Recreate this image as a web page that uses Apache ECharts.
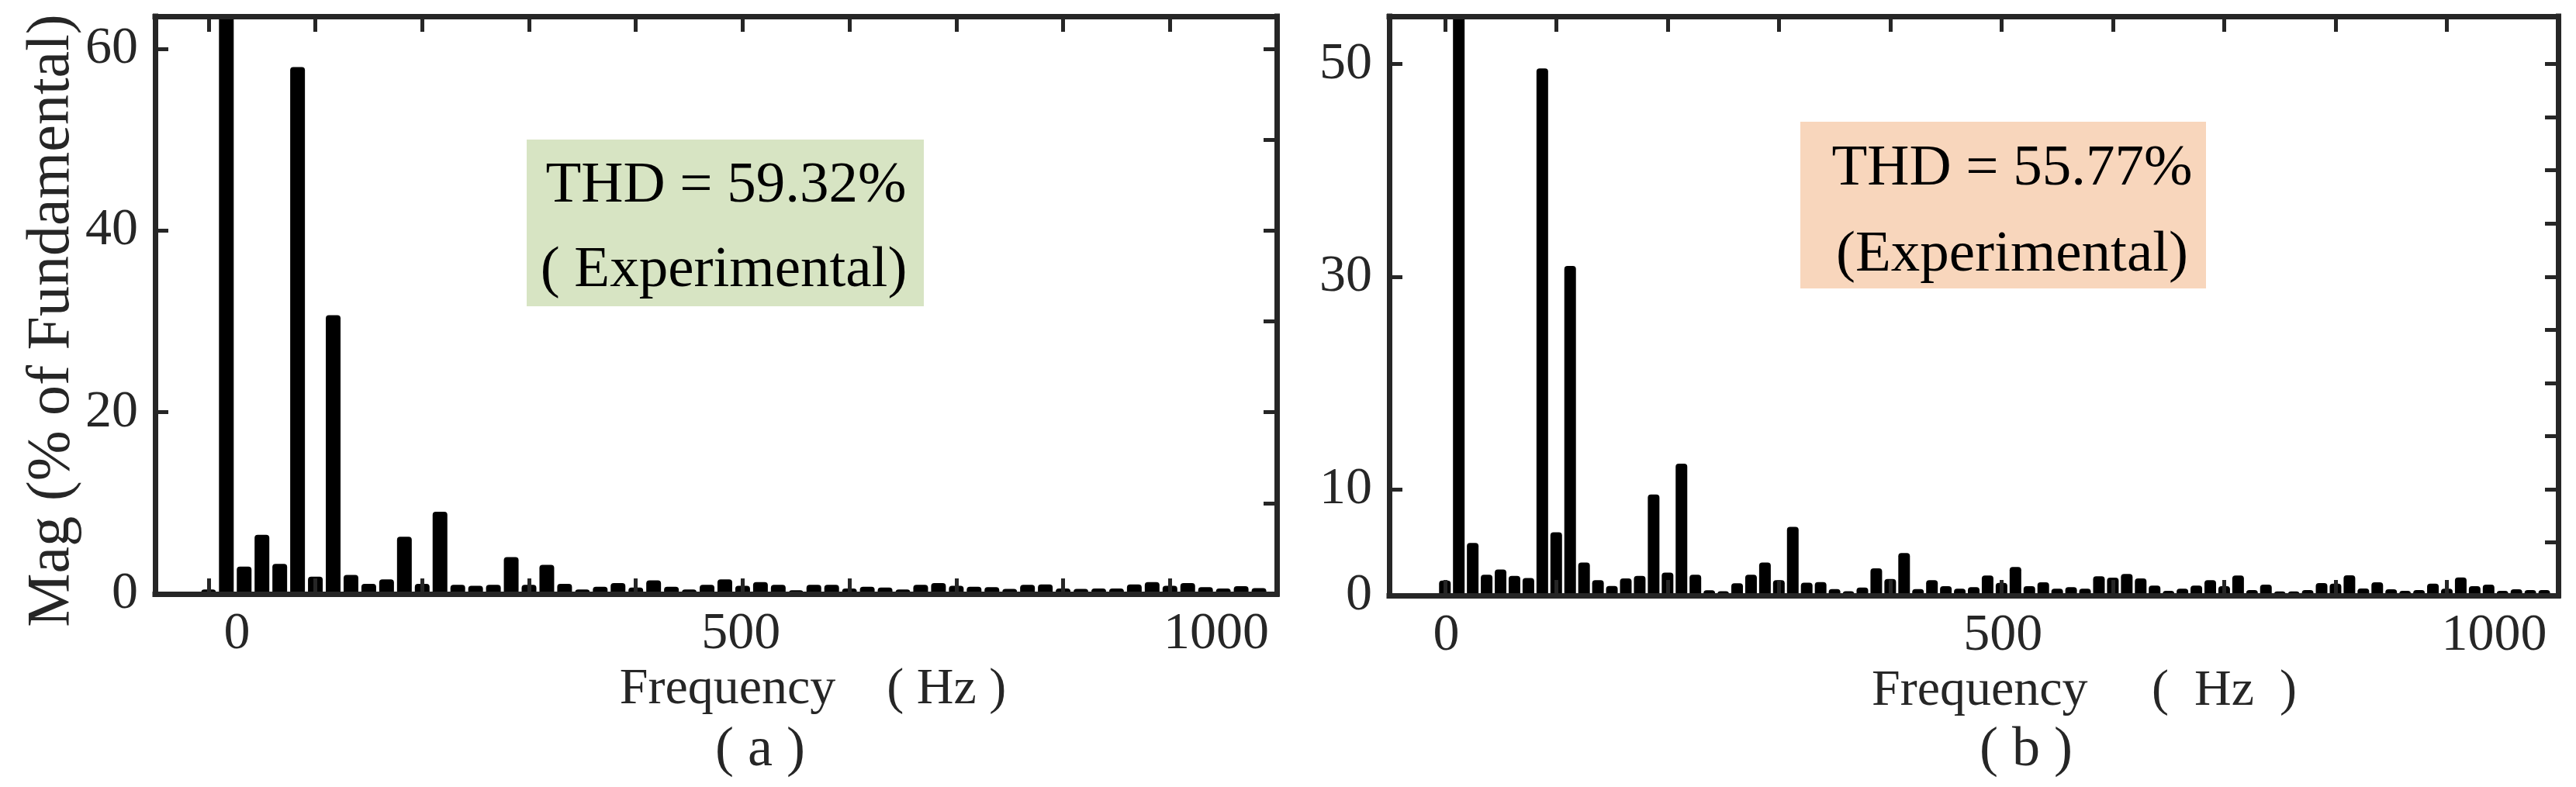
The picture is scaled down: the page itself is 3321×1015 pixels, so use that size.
<!DOCTYPE html>
<html>
<head>
<meta charset="utf-8">
<title>Harmonic spectrum</title>
<script src="https://cdn.jsdelivr.net/npm/echarts@6/dist/echarts.min.js"></script>
<style>
  html, body { margin: 0; padding: 0; background: #fff; }
  #chart { width: 3321px; height: 1015px; }
</style>
</head>
<body>
<div id="chart"></div>
<script>
// bar index along the spectrum (1 = fundamental, clipped at the top)
const ordersA = [0, 1, 2, 3, 4, 5, 6, 7, 8, 9, 10, 11, 12, 13, 14, 15, 16, 17, 18, 19,
  20, 21, 22, 23, 24, 25, 26, 27, 28, 29, 30, 31, 32, 33, 34, 35, 36, 37, 38, 39,
  40, 41, 42, 43, 44, 45, 46, 47, 48, 49, 50, 51, 52, 53, 54, 55, 56, 57, 58, 59];
const magA = [0.5, 100, 3.0, 6.5, 3.3, 58.0, 1.9, 30.7, 2.1, 1.1,
  1.6, 6.3, 1.1, 9.05, 1.0, 0.9, 1.0, 4.05, 1.0, 3.2,
  1.1, 0.5, 0.8, 1.2, 0.7, 1.5, 0.8, 0.5, 1.0, 1.6,
  0.9, 1.3, 1.0, 0.4, 1.0, 1.0, 0.6, 0.8, 0.7, 0.5,
  1.0, 1.2, 0.9, 0.8, 0.75, 0.55, 1.0, 1.05, 0.6, 0.55,
  0.6, 0.6, 1.05, 1.3, 0.9, 1.2, 0.75, 0.6, 0.85, 0.65];

const ordersB = [0, 1, 2, 3, 4, 5, 6, 7, 8, 9, 10, 11, 12, 13, 14, 15, 16, 17, 18, 19,
  20, 21, 22, 23, 24, 25, 26, 27, 28, 29, 30, 31, 32, 33, 34, 35, 36, 37, 38, 39,
  40, 41, 42, 43, 44, 45, 46, 47, 48, 49, 50, 51, 52, 53, 54, 55, 56, 57, 58, 59,
  60, 61, 62, 63, 64, 65, 66, 67, 68, 69, 70, 71, 72, 73, 74, 75, 76, 77, 78, 79];
const magB = [1.4, 100, 4.95, 1.95, 2.45, 1.85, 1.65, 49.6, 5.95, 31.0,
  3.1, 1.45, 0.9, 1.6, 1.85, 9.5, 2.15, 12.4, 1.95, 0.5,
  0.4, 1.15, 1.95, 3.1, 1.45, 6.45, 1.2, 1.25, 0.6, 0.4,
  0.75, 2.55, 1.55, 4.0, 0.6, 1.44, 0.88, 0.63, 0.78, 1.88,
  1.19, 2.68, 0.88, 1.24, 0.63, 0.78, 0.63, 1.8, 1.68, 2.02,
  1.6, 0.93, 0.44, 0.63, 0.93, 1.44, 0.88, 1.88, 0.51, 1.02,
  0.39, 0.39, 0.51, 1.17, 1.12, 1.9, 0.66, 1.24, 0.58, 0.44,
  0.51, 1.12, 0.63, 1.7, 0.88, 1.02, 0.44, 0.58, 0.51, 0.51];

// frequency tick labels and where they sit on each panel's bar axis
const freqLabels = ['0', '500', '1000'];
const freqLabelAtA = [1.6, 29.9, 56.6];
const freqLabelAtB = [0.1, 40.1, 75.4];

// y tick labels
const magTicksA = [0, 20, 40, 60];
const magTicksB = [0, 10, 30, 50];

const thdText = ['THD = 59.32%', 'THD = 55.77%'];
const expText = ['( Experimental)', '(Experimental)'];

const font = 'Liberation Serif';
const ink = '#262626';
const axisLine = { show: true, onZero: false, lineStyle: { color: ink, width: 7, cap: 'square' } };
const tickStyle = { color: ink, width: 5 };

function steps(step, max) {
  const t = [];
  for (let v = 0; v < max; v += step) t.push(v);
  return t;
}

function bottomAxis(grid, min, max, step, labelAt, name, namePad) {
  return {
    type: 'value', gridIndex: grid, position: 'bottom', min: min, max: max, z: 5,
    axisLine: axisLine,
    axisTick: { show: true, inside: true, length: 20, customValues: steps(step, max), lineStyle: tickStyle },
    axisLabel: {
      show: true, customValues: labelAt, margin: 18,
      formatter: function (v) {
        const i = labelAt.findIndex(p => Math.abs(p - v) < 1e-6);
        return i < 0 ? '' : freqLabels[i];
      },
      fontFamily: font, fontSize: 68, color: ink
    },
    splitLine: { show: false },
    name: name, nameLocation: 'middle', nameGap: 80,
    nameTextStyle: { fontFamily: font, fontSize: 66, color: ink, padding: [0, 0, 0, namePad] }
  };
}

function topAxis(grid, min, max, step) {
  return {
    type: 'value', gridIndex: grid, position: 'top', min: min, max: max, z: 5,
    axisLine: axisLine,
    axisTick: { show: true, inside: true, length: 20, customValues: steps(step, max), lineStyle: tickStyle },
    axisLabel: { show: false },
    splitLine: { show: false }
  };
}

function leftAxis(grid, max, ticks) {
  return {
    type: 'value', gridIndex: grid, position: 'left', min: 0, max: max, z: 5,
    axisLine: axisLine,
    axisTick: { show: true, inside: true, length: 17, customValues: ticks, lineStyle: tickStyle },
    axisLabel: {
      show: true, customValues: ticks, margin: 22, padding: [26, 0, 0, 0],
      fontFamily: font, fontSize: 68, color: ink
    },
    splitLine: { show: false }
  };
}

function rightAxis(grid, max, step) {
  return {
    type: 'value', gridIndex: grid, position: 'right', min: 0, max: max, z: 5,
    axisLine: axisLine,
    axisTick: { show: true, inside: true, length: 17, customValues: steps(step, max), lineStyle: tickStyle },
    axisLabel: { show: false },
    splitLine: { show: false }
  };
}

const yA = leftAxis(0, 63.6, magTicksA);
yA.name = 'Mag (% of Fundamental)';
yA.nameLocation = 'middle';
yA.nameGap = 90;
yA.nameTextStyle = { fontFamily: font, fontSize: 78, color: ink, padding: [0, 40, 0, 0] };

const option = {
  animation: false,
  backgroundColor: '#fff',
  grid: [
    { left: 200, top: 21, width: 1446, height: 745 },
    { left: 1791, top: 21, width: 1507, height: 747 }
  ],
  xAxis: [
    bottomAxis(0, -3, 60, 6, freqLabelAtA, 'Frequency    ( Hz )', 250),
    topAxis(0, -3, 60, 6),
    bottomAxis(1, -4, 80, 8, freqLabelAtB, 'Frequency     (  Hz  )', 285),
    topAxis(1, -4, 80, 8)
  ],
  yAxis: [
    yA,
    rightAxis(0, 63.6, 10),
    leftAxis(1, 54.5, magTicksB),
    rightAxis(1, 54.5, 5)
  ],
  series: [
    {
      type: 'bar', xAxisIndex: 0, yAxisIndex: 0, barWidth: 19, clip: true, silent: true,
      itemStyle: { color: '#000', borderRadius: [4, 4, 0, 0] },
      data: ordersA.map((h, i) => [h, magA[i]])
    },
    {
      type: 'bar', xAxisIndex: 2, yAxisIndex: 2, barWidth: 15, clip: true, silent: true,
      itemStyle: { color: '#000', borderRadius: [4, 4, 0, 0] },
      data: ordersB.map((h, i) => [h, magB[i]])
    }
  ],
  graphic: [
    { type: 'rect', shape: { x: 679, y: 180, width: 512, height: 215 }, style: { fill: '#d7e4c3' } },
    { type: 'text', x: 936, y: 240, style: { text: thdText[0], fontFamily: font, fontSize: 75, fill: '#000', align: 'center', verticalAlign: 'middle' } },
    { type: 'text', x: 933, y: 349, style: { text: expText[0], fontFamily: font, fontSize: 75, fill: '#000', align: 'center', verticalAlign: 'middle' } },
    { type: 'rect', shape: { x: 2321, y: 157, width: 523, height: 215 }, style: { fill: '#f8d6bc' } },
    { type: 'text', x: 2594, y: 218, style: { text: thdText[1], fontFamily: font, fontSize: 75, fill: '#000', align: 'center', verticalAlign: 'middle' } },
    { type: 'text', x: 2594, y: 329, style: { text: expText[1], fontFamily: font, fontSize: 75, fill: '#000', align: 'center', verticalAlign: 'middle' } },
    { type: 'text', x: 980, y: 968, style: { text: '( a )', fontFamily: font, fontSize: 72, fill: ink, align: 'center', verticalAlign: 'middle' } },
    { type: 'text', x: 2612, y: 968, style: { text: '( b )', fontFamily: font, fontSize: 72, fill: ink, align: 'center', verticalAlign: 'middle' } }
  ]
};

const chart = echarts.init(document.getElementById('chart'));
chart.setOption(option);
</script>
</body>
</html>
